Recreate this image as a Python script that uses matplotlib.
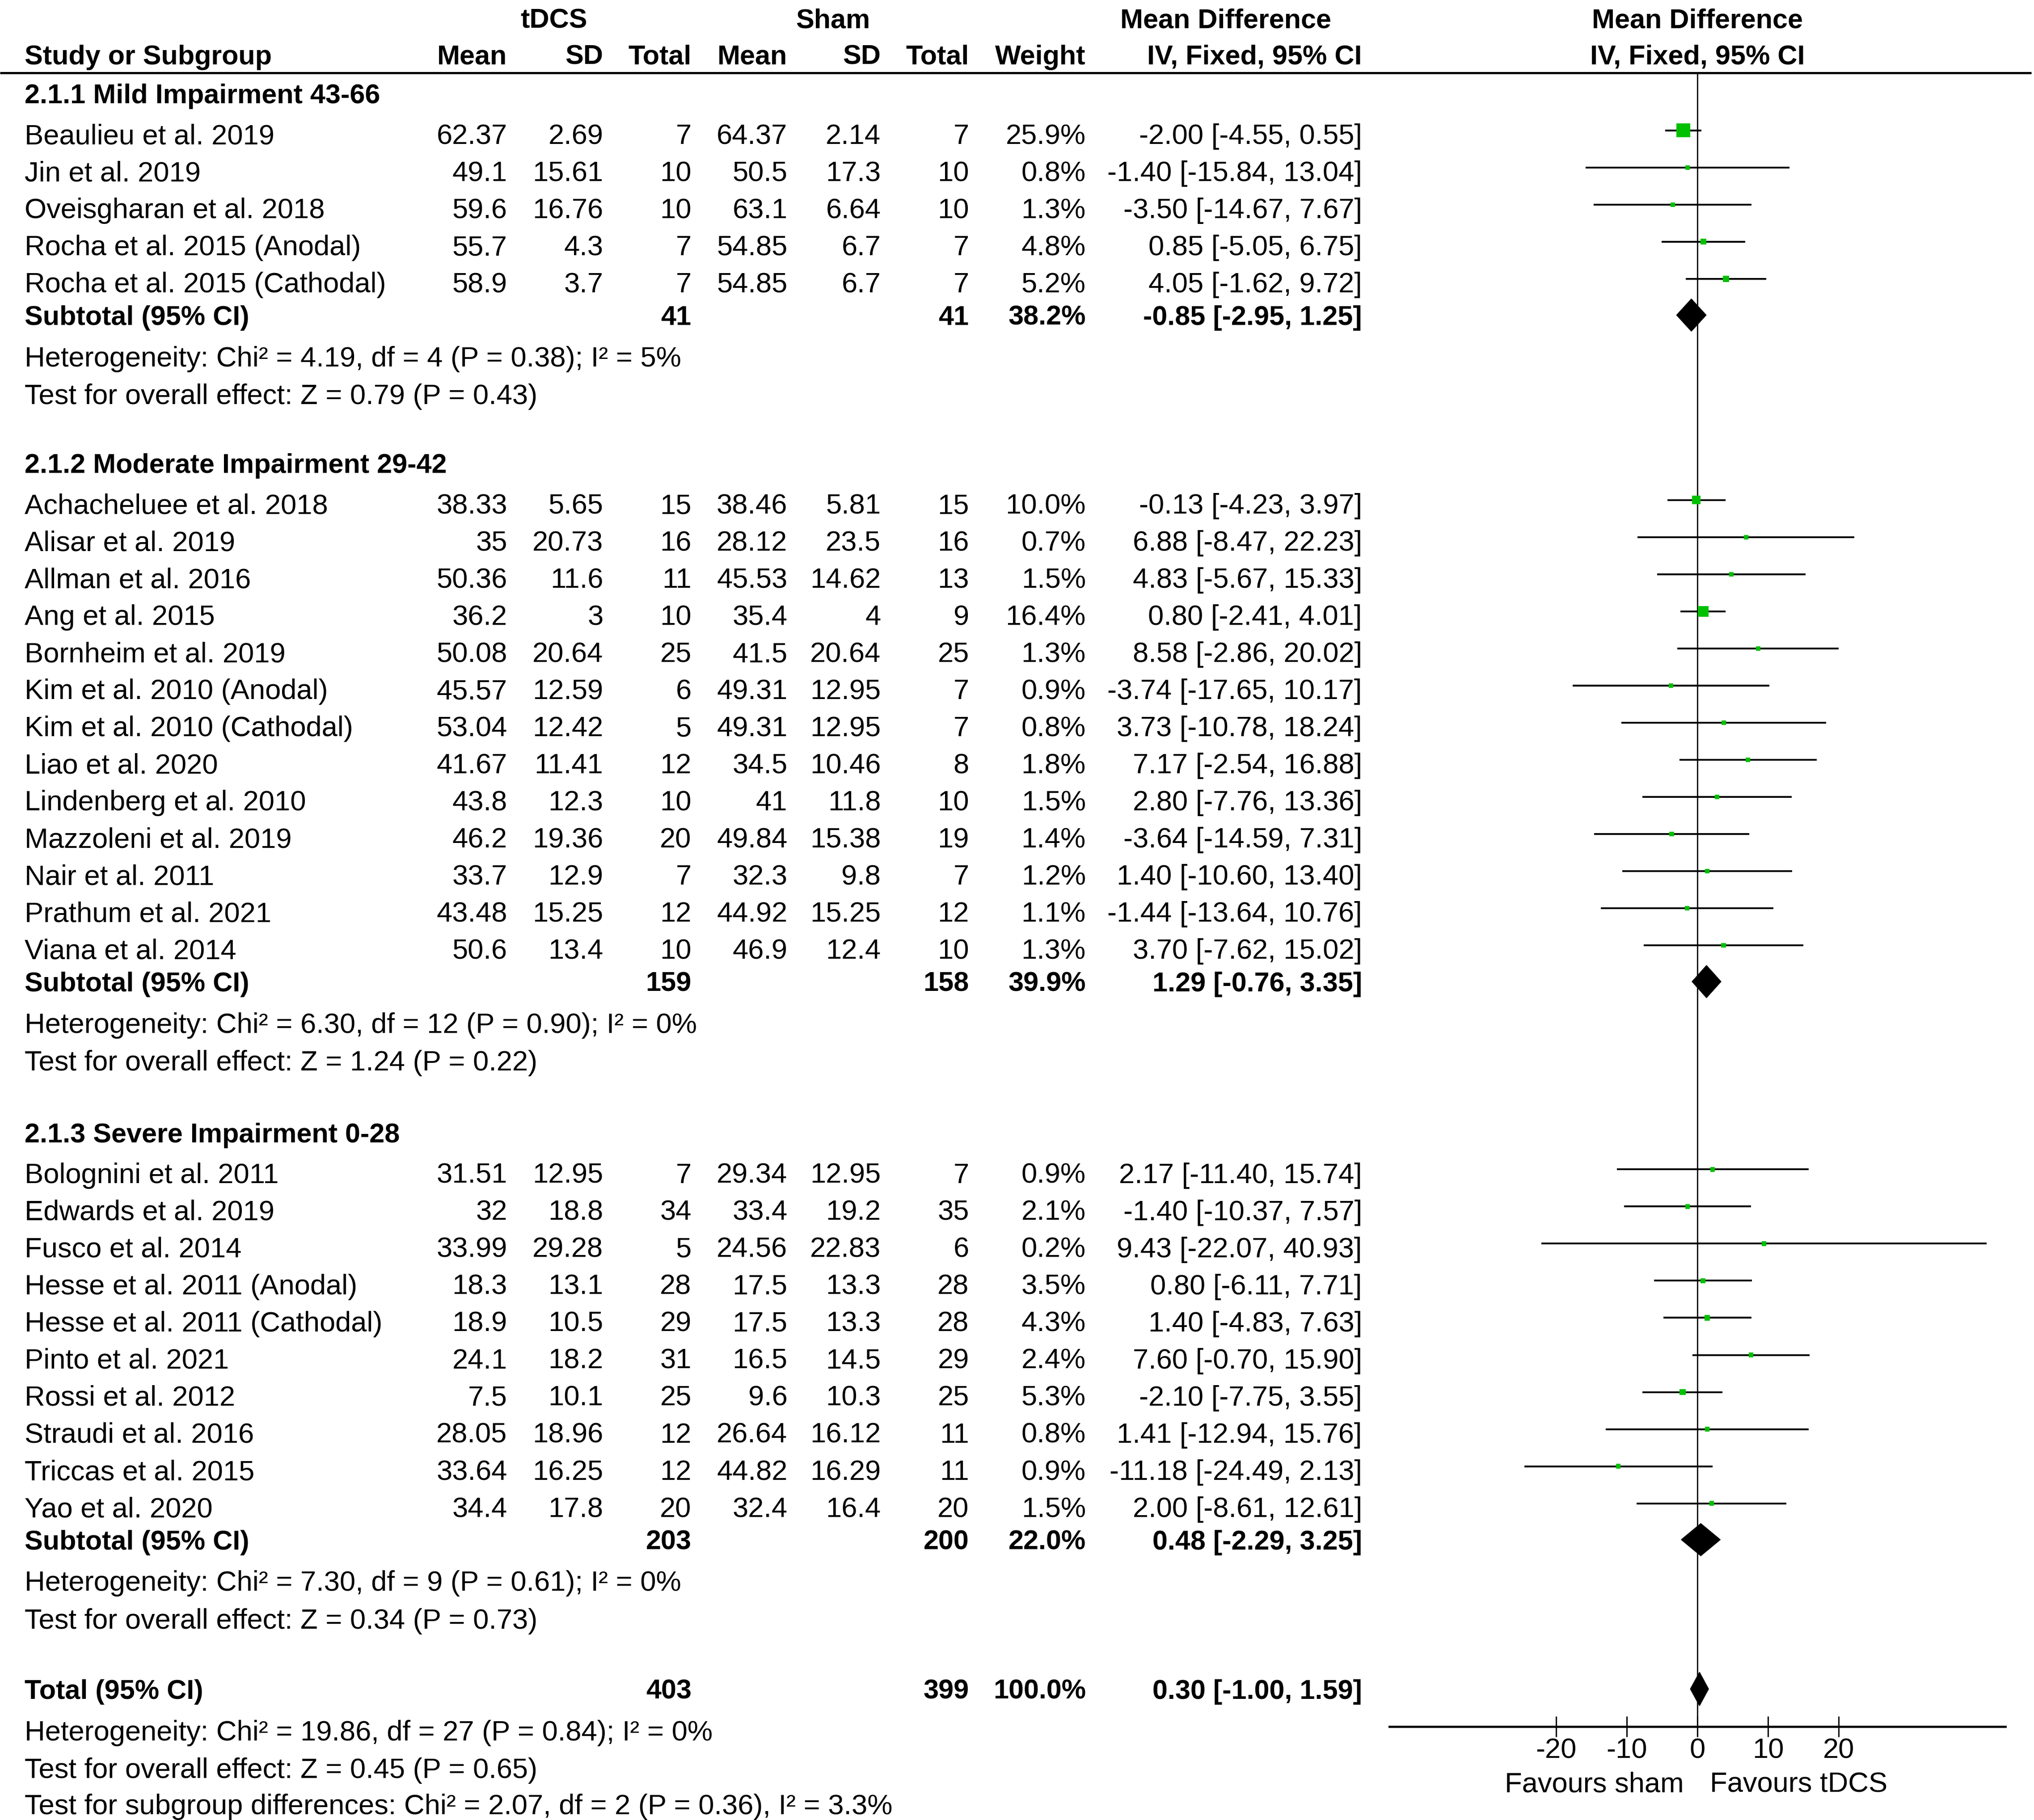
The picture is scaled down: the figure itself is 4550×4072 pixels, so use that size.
import matplotlib
matplotlib.use('Agg')
import matplotlib.pyplot as plt
from matplotlib.patches import Polygon
import numpy as np

plt.rcParams['font.family'] = ['Liberation Sans', 'DejaVu Sans']
plt.rcParams['axes.unicode_minus'] = False

# ---------------- data ----------------
group_titles = ["2.1.1 Mild Impairment 43-66",
                "2.1.2 Moderate Impairment 29-42",
                "2.1.3 Severe Impairment 0-28"]

g1_names = ["Beaulieu et al. 2019", "Jin et al. 2019", "Oveisgharan et al. 2018",
            "Rocha et al. 2015 (Anodal)", "Rocha et al. 2015 (Cathodal)"]
g1_t_mean = [62.37, 49.1, 59.6, 55.7, 58.9]
g1_t_sd = [2.69, 15.61, 16.76, 4.3, 3.7]
g1_t_n = [7, 10, 10, 7, 7]
g1_s_mean = [64.37, 50.5, 63.1, 54.85, 54.85]
g1_s_sd = [2.14, 17.3, 6.64, 6.7, 6.7]
g1_s_n = [7, 10, 10, 7, 7]
g1_weight = [25.9, 0.8, 1.3, 4.8, 5.2]
g1_md = [-2.00, -1.40, -3.50, 0.85, 4.05]
g1_lo = [-4.55, -15.84, -14.67, -5.05, -1.62]
g1_hi = [0.55, 13.04, 7.67, 6.75, 9.72]

g2_names = ["Achacheluee et al. 2018", "Alisar et al. 2019", "Allman et al. 2016",
            "Ang et al. 2015", "Bornheim et al. 2019", "Kim et al. 2010 (Anodal)",
            "Kim et al. 2010 (Cathodal)", "Liao et al. 2020", "Lindenberg et al. 2010",
            "Mazzoleni et al. 2019", "Nair et al. 2011", "Prathum et al. 2021",
            "Viana et al. 2014"]
g2_t_mean = [38.33, 35, 50.36, 36.2, 50.08, 45.57, 53.04, 41.67, 43.8, 46.2, 33.7, 43.48, 50.6]
g2_t_sd = [5.65, 20.73, 11.6, 3, 20.64, 12.59, 12.42, 11.41, 12.3, 19.36, 12.9, 15.25, 13.4]
g2_t_n = [15, 16, 11, 10, 25, 6, 5, 12, 10, 20, 7, 12, 10]
g2_s_mean = [38.46, 28.12, 45.53, 35.4, 41.5, 49.31, 49.31, 34.5, 41, 49.84, 32.3, 44.92, 46.9]
g2_s_sd = [5.81, 23.5, 14.62, 4, 20.64, 12.95, 12.95, 10.46, 11.8, 15.38, 9.8, 15.25, 12.4]
g2_s_n = [15, 16, 13, 9, 25, 7, 7, 8, 10, 19, 7, 12, 10]
g2_weight = [10.0, 0.7, 1.5, 16.4, 1.3, 0.9, 0.8, 1.8, 1.5, 1.4, 1.2, 1.1, 1.3]
g2_md = [-0.13, 6.88, 4.83, 0.80, 8.58, -3.74, 3.73, 7.17, 2.80, -3.64, 1.40, -1.44, 3.70]
g2_lo = [-4.23, -8.47, -5.67, -2.41, -2.86, -17.65, -10.78, -2.54, -7.76, -14.59, -10.60, -13.64, -7.62]
g2_hi = [3.97, 22.23, 15.33, 4.01, 20.02, 10.17, 18.24, 16.88, 13.36, 7.31, 13.40, 10.76, 15.02]

g3_names = ["Bolognini et al. 2011", "Edwards et al. 2019", "Fusco et al. 2014",
            "Hesse et al. 2011 (Anodal)", "Hesse et al. 2011 (Cathodal)", "Pinto et al. 2021",
            "Rossi et al. 2012", "Straudi et al. 2016", "Triccas et al. 2015", "Yao et al. 2020"]
g3_t_mean = [31.51, 32, 33.99, 18.3, 18.9, 24.1, 7.5, 28.05, 33.64, 34.4]
g3_t_sd = [12.95, 18.8, 29.28, 13.1, 10.5, 18.2, 10.1, 18.96, 16.25, 17.8]
g3_t_n = [7, 34, 5, 28, 29, 31, 25, 12, 12, 20]
g3_s_mean = [29.34, 33.4, 24.56, 17.5, 17.5, 16.5, 9.6, 26.64, 44.82, 32.4]
g3_s_sd = [12.95, 19.2, 22.83, 13.3, 13.3, 14.5, 10.3, 16.12, 16.29, 16.4]
g3_s_n = [7, 35, 6, 28, 28, 29, 25, 11, 11, 20]
g3_weight = [0.9, 2.1, 0.2, 3.5, 4.3, 2.4, 5.3, 0.8, 0.9, 1.5]
g3_md = [2.17, -1.40, 9.43, 0.80, 1.40, 7.60, -2.10, 1.41, -11.18, 2.00]
g3_lo = [-11.40, -10.37, -22.07, -6.11, -4.83, -0.70, -7.75, -12.94, -24.49, -8.61]
g3_hi = [15.74, 7.57, 40.93, 7.71, 7.63, 15.90, 3.55, 15.76, 2.13, 12.61]

sub_t_n = [41, 159, 203]
sub_s_n = [41, 158, 200]
sub_weight = [38.2, 39.9, 22.0]
sub_md = [-0.85, 1.29, 0.48]
sub_lo = [-2.95, -0.76, -2.29]
sub_hi = [1.25, 3.35, 3.25]
sub_het = ["Heterogeneity: Chi² = 4.19, df = 4 (P = 0.38); I² = 5%",
           "Heterogeneity: Chi² = 6.30, df = 12 (P = 0.90); I² = 0%",
           "Heterogeneity: Chi² = 7.30, df = 9 (P = 0.61); I² = 0%"]
sub_test = ["Test for overall effect: Z = 0.79 (P = 0.43)",
            "Test for overall effect: Z = 1.24 (P = 0.22)",
            "Test for overall effect: Z = 0.34 (P = 0.73)"]

tot_t_n = 403
tot_s_n = 399
tot_weight = 100.0
tot_md = 0.30
tot_lo = -1.00
tot_hi = 1.59
tot_texts = ["Heterogeneity: Chi² = 19.86, df = 27 (P = 0.84); I² = 0%",
             "Test for overall effect: Z = 0.45 (P = 0.65)",
             "Test for subgroup differences: Chi² = 2.07, df = 2 (P = 0.36), I² = 3.3%"]

x_ticks = [-20, -10, 0, 10, 20]
favours_left = "Favours sham"
favours_right = "Favours tDCS"

groups = [
    dict(names=g1_names, tm=g1_t_mean, tsd=g1_t_sd, tn=g1_t_n, sm=g1_s_mean, ssd=g1_s_sd,
         sn=g1_s_n, w=g1_weight, md=g1_md, lo=g1_lo, hi=g1_hi),
    dict(names=g2_names, tm=g2_t_mean, tsd=g2_t_sd, tn=g2_t_n, sm=g2_s_mean, ssd=g2_s_sd,
         sn=g2_s_n, w=g2_weight, md=g2_md, lo=g2_lo, hi=g2_hi),
    dict(names=g3_names, tm=g3_t_mean, tsd=g3_t_sd, tn=g3_t_n, sm=g3_s_mean, ssd=g3_s_sd,
         sn=g3_s_n, w=g3_weight, md=g3_md, lo=g3_lo, hi=g3_hi),
]

# ---------------- layout (reference pixel units) ----------------
W, H = 1568.0, 1403.0
S = 4550.0 / W
FS = 45.5       # regular text
FSB = 44        # bold text
BASE = 7.5      # cap-centre -> baseline offset
header_y = [72, 357, 873]
STEP = 28.6
total_y = 1302
line_y = 56
axis_y = 1331
XMIN, XMAX = -43.6, 43.6
AX_L, AX_R = 1071.0, 1546.0

col_tm, col_tsd, col_tn = 391, 465, 533
col_sm, col_ssd, col_sn = 607, 679, 747
col_w, col_ci = 837, 1050
LEFT = 19

fig = plt.figure(figsize=(45.5, 40.72), dpi=100)
tax = fig.add_axes([0, 0, 1, 1])
tax.set_xlim(0, W)
tax.set_ylim(H, 0)
tax.axis('off')

fax = fig.add_axes([AX_L / W, 1 - axis_y / H, (AX_R - AX_L) / W, (axis_y - line_y) / H])
fax.set_xlim(XMIN, XMAX)
fax.set_ylim(axis_y, line_y)
fax.patch.set_alpha(0)
for sp in ['top', 'left', 'right']:
    fax.spines[sp].set_visible(False)
fax.spines['bottom'].set_linewidth(3.5)
fax.set_yticks([])
fax.set_xticks(x_ticks)
fax.set_xticklabels([str(t) for t in x_ticks])
fax.tick_params(axis='x', direction='inout', length=33, width=2.2, pad=1, labelsize=FS)


def put(x, y, s, ha='left', bold=False, ax=None):
    (ax or tax).text(x, y + BASE, s, ha=ha, va='baseline', fontsize=FSB if bold else FS,
                     fontweight='bold' if bold else 'normal', color='black')


def fmt(v):
    return '{:g}'.format(v)


def ci_str(m, l, h):
    return '{:.2f} [{:.2f}, {:.2f}]'.format(m, l, h)


# headers
put(427, 14, 'tDCS', ha='center', bold=True)
put(642, 14, 'Sham', ha='center', bold=True)
put(945, 14, 'Mean Difference', ha='center', bold=True)
put(LEFT, 42, 'Study or Subgroup', bold=True)
for x, s in [(col_tm, 'Mean'), (col_tsd, 'SD'), (col_tn, 'Total'), (col_sm, 'Mean'),
             (col_ssd, 'SD'), (col_sn, 'Total'), (col_w, 'Weight'), (col_ci, 'IV, Fixed, 95% CI')]:
    put(x, 42, s, ha='right', bold=True)
put(0, 14, 'Mean Difference', ha='center', bold=True, ax=fax)
put(0, 42, 'IV, Fixed, 95% CI', ha='center', bold=True, ax=fax)
tax.plot([0, 1566], [line_y, line_y], color='black', lw=3.5, solid_capstyle='butt')

# zero line
fax.axvline(0, color='black', lw=2.0, zorder=1)

GREEN = '#00c000'


def marker_pts(w):
    side = max(3.5, 10.5 * np.sqrt(w / 25.9))
    return side * S * 72.0 / 100.0


def diamond(y, m, l, h, height=25):
    fax.add_patch(Polygon([(l, y), (m, y - height / 2), (h, y), (m, y + height / 2)],
                          closed=True, facecolor='black', edgecolor='black', lw=1, zorder=4))


for gi, g in enumerate(groups):
    hy = header_y[gi]
    put(LEFT, hy, group_titles[gi], bold=True)
    n = len(g['names'])
    ys = [hy + 31.5 + STEP * i for i in range(n)]
    for i in range(n):
        y = ys[i]
        put(LEFT, y, g['names'][i])
        put(col_tm, y, fmt(g['tm'][i]), ha='right')
        put(col_tsd, y, fmt(g['tsd'][i]), ha='right')
        put(col_tn, y, fmt(g['tn'][i]), ha='right')
        put(col_sm, y, fmt(g['sm'][i]), ha='right')
        put(col_ssd, y, fmt(g['ssd'][i]), ha='right')
        put(col_sn, y, fmt(g['sn'][i]), ha='right')
        put(col_w, y, '{:.1f}%'.format(g['w'][i]), ha='right')
        put(col_ci, y, ci_str(g['md'][i], g['lo'][i], g['hi'][i]), ha='right')
        ly = y - 3
        fax.hlines(ly, g['lo'][i], g['hi'][i], color='black', lw=2.9, zorder=2)
        fax.scatter([g['md'][i]], [ly], marker='s', s=marker_pts(g['w'][i]) ** 2,
                    color=GREEN, edgecolors='none', zorder=3)
    sy = ys[-1] + 25
    put(LEFT, sy, 'Subtotal (95% CI)', bold=True)
    put(col_tn, sy, fmt(sub_t_n[gi]), ha='right', bold=True)
    put(col_sn, sy, fmt(sub_s_n[gi]), ha='right', bold=True)
    put(col_w, sy, '{:.1f}%'.format(sub_weight[gi]), ha='right', bold=True)
    put(col_ci, sy, ci_str(sub_md[gi], sub_lo[gi], sub_hi[gi]), ha='right', bold=True)
    diamond(sy, sub_md[gi], sub_lo[gi], sub_hi[gi])
    put(LEFT, sy + 32, sub_het[gi])
    put(LEFT, sy + 61, sub_test[gi])

# overall
put(LEFT, total_y, 'Total (95% CI)', bold=True)
put(col_tn, total_y, fmt(tot_t_n), ha='right', bold=True)
put(col_sn, total_y, fmt(tot_s_n), ha='right', bold=True)
put(col_w, total_y, '{:.1f}%'.format(tot_weight), ha='right', bold=True)
put(col_ci, total_y, ci_str(tot_md, tot_lo, tot_hi), ha='right', bold=True)
diamond(total_y, tot_md, tot_lo, tot_hi, height=26)
for k, s in enumerate(tot_texts):
    put(LEFT, total_y + 32 + 29 * k - (1 if k == 2 else 0), s)

# favours labels
put(-1.9, 1374, favours_left, ha='right', ax=fax)
put(1.8, 1374, favours_right, ha='left', ax=fax)

fig.savefig('out.png', dpi=100, facecolor='white')
